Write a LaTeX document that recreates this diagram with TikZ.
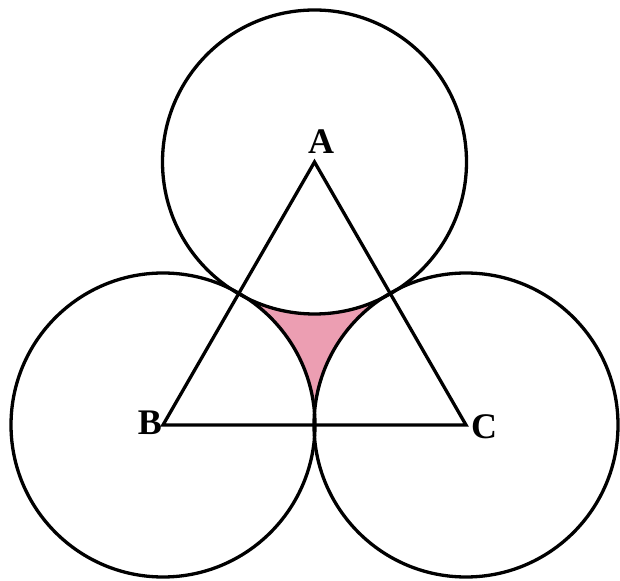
\documentclass[tikz,border=0pt]{standalone}
\usepackage{fontspec}
\setmainfont{Liberation Serif}
\usetikzlibrary{calc}
\begin{document}
\begin{tikzpicture}[x=1pt,y=1pt,
  ring/.style={draw=black,line width=3.3pt},
  edge/.style={draw=black,line width=3.3pt},
  lab/.style={inner sep=0pt,font=\fontsize{36}{42}\selectfont\bfseries},
  cusp/.style={fill={rgb,255:red,236;green,158;blue,178}}]
\useasboundingbox (0,0) rectangle (620,580);
\fill[white] (0,0) rectangle (620,580);
\coordinate (A) at (314.5,418);
\coordinate (B) at (163,155);
\coordinate (C) at (466,155);
\coordinate (TAB) at ($(A)!0.5!(B)$);
% shaded region
\fill[cusp] (TAB) arc[start angle=240,end angle=300,radius=152pt]
  arc[start angle=120,end angle=180,radius=152pt]
  arc[start angle=0,end angle=60,radius=152pt] -- cycle;
\draw[ring] (A) circle[radius=152pt];
\draw[ring] (B) circle[radius=152pt];
\draw[ring] (C) circle[radius=152pt];
\draw[edge,line join=miter] (A) -- (B) -- (C) -- cycle;
\node[lab] (la) at (321,438) {A};
\node[lab] (lb) at (150,157) {B};
\node[lab] (lc) at (484,153) {C};
\end{tikzpicture}
\end{document}
